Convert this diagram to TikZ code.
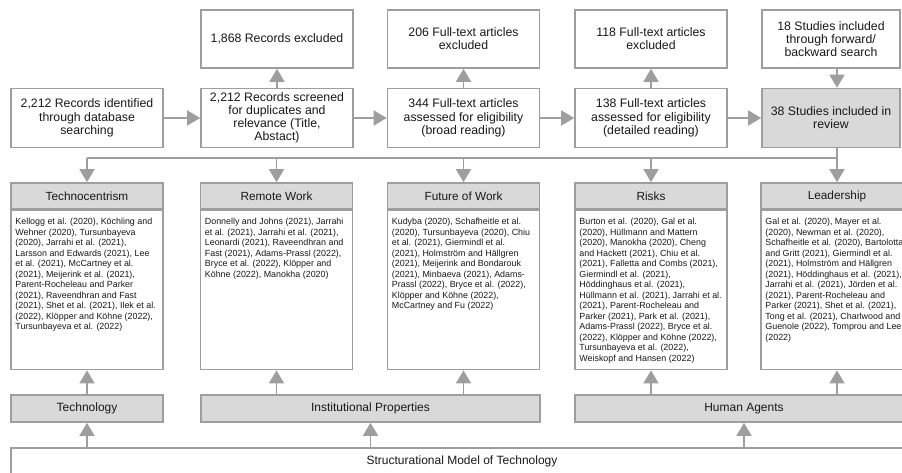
\documentclass[tikz,border=0pt]{standalone}
\usepackage{fontspec}
\setmainfont{Liberation Sans}
\usetikzlibrary{arrows.meta, positioning}
\definecolor{griTrait}{RGB}{158, 158, 158}
\definecolor{griFond}{RGB}{217, 217, 217}
\definecolor{noirTexte}{RGB}{25, 25, 25}

\begin{document}
\begin{tikzpicture}[x=1pt, y=-1pt,
  stage/.style={rectangle, draw=griTrait, fill=white, line width=1.6pt,
    minimum width=152pt, minimum height=59pt, inner sep=0pt,
    align=center, text=noirTexte, font=\fontsize{12.3}{13.2}\selectfont},
  cat/.style={rectangle, draw=griTrait, fill=griFond, line width=1.6pt,
    minimum width=152pt, minimum height=26pt, inner sep=0pt,
    text=noirTexte, font=\fontsize{11.8}{14}\selectfont},
  refbox/.style={rectangle, draw=griTrait, fill=white, line width=1.6pt,
    minimum width=152pt, minimum height=159pt, inner sep=0pt},
  refs/.style={anchor=north west, inner xsep=5pt, inner ysep=8.5pt,
    align=left, text=noirTexte, font=\fontsize{8.9}{10.5}\selectfont},
  layer/.style={rectangle, draw=griTrait, fill=griFond, line width=1.6pt,
    minimum height=27pt, inner sep=0pt, text=noirTexte,
    font=\fontsize{12}{14}\selectfont},
  arr/.style={-{Triangle[length=13pt, width=15pt]}, line width=1.6pt,
    draw=griTrait},
  bus/.style={line width=1.6pt, draw=griTrait},
]
\useasboundingbox (0,0) rectangle (902,473);
\clip (0,0) rectangle (902,473);

% selection steps
\node[stage] (ident)  at (87,  118)
  {2,212 Records identified\\through database\\searching};
\node[stage] (screen) at (277, 118)
  {2,212 Records screened\\for duplicates and\\relevance (Title,\\Abstact)};
\node[stage] (broad)  at (463.5, 118)
  {344 Full-text articles\\assessed for eligibility\\(broad reading)};
\node[stage] (detail) at (651, 118)
  {138 Full-text articles\\assessed for eligibility\\(detailed reading)};
\node[stage, fill=griFond, minimum width=138pt] (incl) at (831, 118)
  {38 Studies included in\\review};

\node[stage, minimum height=58pt] (exRec)    at (277, 39)
  {1,868 Records excluded};
\node[stage, minimum height=58pt] (exBroad)  at (463.5, 39)
  {206 Full-text articles\\excluded};
\node[stage, minimum height=58pt] (exDetail) at (651, 39)
  {118 Full-text articles\\excluded};
\node[stage, minimum height=58pt, minimum width=138pt] (fwd) at (831, 39)
  {18 Studies included\\through forward/\\backward search};

% themes
\node[cat] (tcHead) at (87,    196) {Technocentrism};
\node[cat] (rwHead) at (276.5, 196) {Remote Work};
\node[cat] (fwHead) at (463.5, 196) {Future of Work};
\node[cat] (riHead) at (651,   196) {Risks};
\node[cat] (ldHead) at (837,   196) {Leadership};

\node[refbox, below=0pt of tcHead] (tcBody) {};
\node[refbox, below=0pt of rwHead] (rwBody) {};
\node[refbox, below=0pt of fwHead] (fwBody) {};
\node[refbox, below=0pt of riHead] (riBody) {};
\node[refbox, below=0pt of ldHead] (ldBody) {};

\node[refs] (tcRefs) at (tcBody.north west)
  {Kellogg et al. (2020), Köchling and\\Wehner (2020), Tursunbayeva\\
   (2020), Jarrahi et al. (2021),\\Larsson and Edwards (2021), Lee\\
   et al. (2021), McCartney et al.\\(2021), Meijerink et al. (2021),\\
   Parent-Rocheleau and Parker\\(2021), Raveendhran and Fast\\
   (2021), Shet et al. (2021), Ilek et al.\\
   (2022), Klöpper and Köhne (2022),\\Tursunbayeva et al. (2022)};
\node[refs] (rwRefs) at (rwBody.north west)
  {Donnelly and Johns (2021), Jarrahi\\et al. (2021), Jarrahi et al. (2021),\\
   Leonardi (2021), Raveendhran and\\Fast (2021), Adams-Prassl (2022),\\
   Bryce et al. (2022), Klöpper and\\Köhne (2022), Manokha (2020)};
\node[refs] (fwRefs) at (fwBody.north west)
  {Kudyba (2020), Schafheitle et al.\\(2020), Tursunbayeva (2020), Chiu\\
   et al. (2021), Giermindl et al.\\(2021), Holmström and Hällgren\\
   (2021), Meijerink and Bondarouk\\(2021), Minbaeva (2021), Adams-\\
   Prassl (2022), Bryce et al. (2022),\\Klöpper and Köhne (2022),\\
   McCartney and Fu (2022)};
\node[refs] (riRefs) at (riBody.north west)
  {Burton et al. (2020), Gal et al.\\(2020), Hüllmann and Mattern\\
   (2020), Manokha (2020), Cheng\\and Hackett (2021), Chiu et al.\\
   (2021), Falletta and Combs (2021),\\Giermindl et al. (2021),\\
   Höddinghaus et al. (2021),\\Hüllmann et al. (2021), Jarrahi et al.\\
   (2021), Parent-Rocheleau and\\Parker (2021), Park et al. (2021),\\
   Adams-Prassl (2022), Bryce et al.\\(2022), Klöpper and Köhne (2022),\\
   Tursunbayeva et al. (2022),\\Weiskopf and Hansen (2022)};
\node[refs] (ldRefs) at (ldBody.north west)
  {Gal et al. (2020), Mayer et al.\\(2020), Newman et al. (2020),\\
   Schafheitle et al. (2020), Bartolotta\\and Gritt (2021), Giermindl et al.\\
   (2021), Holmström and Hällgren\\(2021), Höddinghaus et al. (2021),\\
   Jarrahi et al. (2021), Jörden et al.\\(2021), Parent-Rocheleau and\\
   Parker (2021), Shet et al. (2021),\\Tong et al. (2021), Charlwood and\\
   Guenole (2022), Tomprou and Lee\\(2022)};

% model layers
\node[layer, minimum width=152pt] (tech) at (87,    408.5) {Technology};
\node[layer, minimum width=339pt] (inst) at (370.5, 408.5)
  {Institutional Properties};
\node[layer, minimum width=338pt] (hum)  at (744,   408.5) {Human Agents};
\node[layer, fill=white, minimum width=902pt] (base) at (462, 461.5)
  {Structurational Model of Technology};

% flow
\draw[arr] (ident.east)  -- (screen.west);
\draw[arr] (screen.east) -- (broad.west);
\draw[arr] (broad.east)  -- (detail.west);
\draw[arr] (detail.east) -- (incl.west);
\draw[arr] (screen.north) -- (exRec.south);
\draw[arr] (broad.north)  -- (exBroad.south);
\draw[arr] (detail.north) -- (exDetail.south);
\draw[arr] (fwd.south -| ldHead.north) -- (incl.north -| ldHead.north);

\draw[bus] (incl.south -| ldHead.north) -- ++(0,10) coordinate (busEnd);
\draw[bus] (busEnd) -- (busEnd -| tcHead.north);
\draw[arr] (busEnd -| tcHead.north) -- (tcHead.north);
\draw[arr] (busEnd -| rwHead.north) -- (rwHead.north);
\draw[arr] (busEnd -| fwHead.north) -- (fwHead.north);
\draw[arr] (busEnd -| riHead.north) -- (riHead.north);
\draw[arr] (busEnd) -- (ldHead.north);

\draw[arr] (tech.north) -- (tcBody.south);
\draw[arr] (inst.north -| rwBody.south) -- (rwBody.south);
\draw[arr] (inst.north -| fwBody.south) -- (fwBody.south);
\draw[arr] (hum.north -| riBody.south)  -- (riBody.south);
\draw[arr] (hum.north -| ldBody.south)  -- (ldBody.south);
\draw[arr] (base.north -| tech.south) -- (tech.south);
\draw[arr] (base.north -| inst.south) -- (inst.south);
\draw[arr] (base.north -| hum.south)  -- (hum.south);
\end{tikzpicture}
\end{document}
